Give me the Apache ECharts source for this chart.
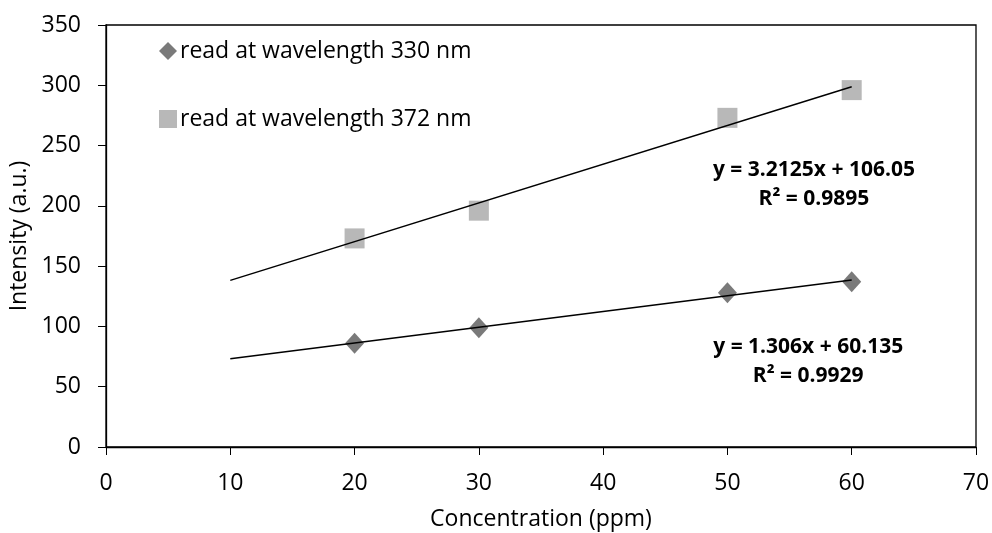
<!DOCTYPE html>
<html>
<head>
<meta charset="utf-8">
<script src="https://cdn.jsdelivr.net/npm/echarts@6/dist/echarts.min.js"></script>
<style>
  html, body { margin: 0; padding: 0; background: #fff; }
  #chart { width: 992px; height: 533px; }
</style>
</head>
<body>
<div id="chart"></div>
<script>
// Concentration (ppm) of each standard
const concentration = [20, 30, 50, 60];
// Measured intensity (a.u.)
const intensity330 = [86, 99, 128, 137];
const intensity372 = [173, 196, 273, 296];
// Linear fits: [slope, intercept, R²]
const fit330 = [1.306, 60.135, 0.9929];
const fit372 = [3.2125, 106.05, 0.9895];
// Range of x covered by the trendlines
const trendRange = [10, 60];
const xTicks = [0, 70, 10];
const yTicks = [0, 350, 50];

const FONT = '"Open Sans", "Liberation Sans", sans-serif';

function trend(fit) {
  return trendRange.map(x => [x, fit[0] * x + fit[1]]);
}
function pts(ys) {
  return concentration.map((x, i) => [x, ys[i]]);
}
function eqText(fit) {
  return 'y = ' + fit[0] + 'x + ' + fit[1] + '\nR² = ' + fit[2].toFixed(4);
}
function eqLabel(fit) {
  return {
    show: true, formatter: eqText(fit), color: '#000',
    fontFamily: FONT, fontWeight: 'bold', fontSize: 21, lineHeight: 28.5, align: 'center'
  };
}

const chart = echarts.init(document.getElementById('chart'), null, { renderer: 'canvas' });
chart.setOption({
  animation: false,
  backgroundColor: '#fff',
  textStyle: { fontFamily: FONT },
  grid: {
    left: 106, right: 16, top: 25, bottom: 86,
    containLabel: false,
    outerBoundsMode: 'none',
    show: true, borderColor: '#000', borderWidth: 1.3, backgroundColor: 'transparent'
  },
  legend: {
    orient: 'vertical',
    left: 154, top: 34,
    itemGap: 44,
    itemWidth: 18, itemHeight: 18,
    textStyle: { fontFamily: FONT, fontSize: 23, lineHeight: 24, color: '#000', padding: [0, 0, 0, -2] },
    data: [
      { name: 'read at wavelength 330 nm', icon: 'diamond' },
      { name: 'read at wavelength 372 nm', icon: 'rect' }
    ]
  },
  xAxis: {
    type: 'value',
    min: xTicks[0], max: xTicks[1], interval: xTicks[2],
    name: 'Concentration (ppm)',
    nameLocation: 'middle', nameGap: 61,
    nameTextStyle: { fontFamily: FONT, fontSize: 23, color: '#000' },
    axisLine: { show: true, lineStyle: { color: '#000', width: 1.3 } },
    axisTick: { show: true, inside: false, length: 8, lineStyle: { color: '#000' } },
    axisLabel: { fontFamily: FONT, fontSize: 23, color: '#000', margin: 25 },
    splitLine: { show: false }
  },
  yAxis: {
    type: 'value',
    min: yTicks[0], max: yTicks[1], interval: yTicks[2],
    name: 'Intensity (a.u.)',
    nameLocation: 'middle', nameGap: 72, nameRotate: 90,
    nameTextStyle: { fontFamily: FONT, fontSize: 23, color: '#000' },
    axisLine: { show: true, lineStyle: { color: '#000', width: 1.3 } },
    axisTick: { show: true, inside: false, length: 8, lineStyle: { color: '#000' } },
    axisLabel: { fontFamily: FONT, fontSize: 23, color: '#000', margin: 25 },
    splitLine: { show: false }
  },
  series: [
    {
      name: 'trend 372',
      type: 'line',
      data: trend(fit372),
      symbol: 'none',
      lineStyle: { color: '#000', width: 1.5 },
      z: 3,
      silent: true,
      markPoint: {
        symbol: 'rect', symbolSize: 0,
        data: [{ coord: [56.96, 217.5], value: 0 }],
        label: eqLabel(fit372)
      }
    },
    {
      name: 'trend 330',
      type: 'line',
      data: trend(fit330),
      symbol: 'none',
      lineStyle: { color: '#000', width: 1.5 },
      z: 3,
      silent: true,
      markPoint: {
        symbol: 'rect', symbolSize: 0,
        data: [{ coord: [56.5, 71], value: 0 }],
        label: eqLabel(fit330)
      }
    },
    {
      name: 'read at wavelength 330 nm',
      type: 'scatter',
      data: pts(intensity330),
      symbol: 'diamond',
      symbolSize: [19, 21],
      itemStyle: { color: '#595959' },
      z: 2
    },
    {
      name: 'read at wavelength 372 nm',
      type: 'scatter',
      data: pts(intensity372),
      symbol: 'rect',
      symbolSize: 20,
      itemStyle: { color: '#A6A6A6' },
      z: 2
    }
  ]
});
</script>
</body>
</html>
